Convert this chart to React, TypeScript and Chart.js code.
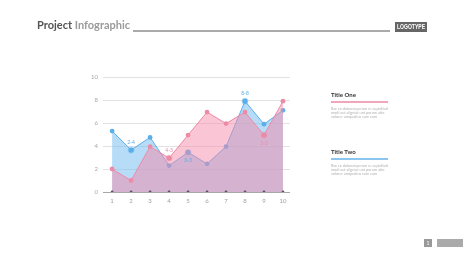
import React, { useEffect, useRef } from "react";
import { Chart, registerables } from "chart.js";

Chart.register(...registerables);

const categories = [1, 2, 3, 4, 5, 6, 7, 8, 9, 10];
const seriesOne = [2, 1, 3.95, 2.95, 4.95, 6.95, 5.95, 6.95, 4.95, 7.9];
const seriesTwo = [5.3, 3.65, 4.75, 2.3, 3.45, 2.45, 3.95, 7.9, 5.9, 7.1];
const yTicks = [0, 2, 4, 6, 8, 10];
const annotationSeries = [1, 0, 1, 1, 0];
const annotationIndex = [1, 3, 4, 7, 8];
const annotationText = ["2-4", "4-3", "3-3", "8-8", "5-5"];

const PINK = "rgb(238,138,165)";
const BLUE = "rgb(90,174,234)";
const PINK_FILL = "rgba(245,140,170,0.5)";
const BLUE_FILL = "rgba(110,185,240,0.5)";

const labelPlugin = {
  id: "pointLabels",
  afterDatasetsDraw(chart: any) {
    const ctx = chart.ctx;
    const xs = chart.scales.x;
    const ys = chart.scales.y;
    const all = [seriesOne, seriesTwo];
    ctx.save();
    ctx.font = "5px Lato, sans-serif";
    ctx.textAlign = "center";
    ctx.textBaseline = "middle";
    annotationIndex.forEach((idx, k) => {
      const s = annotationSeries[k];
      const v = all[s][idx];
      const other = all[1 - s][idx];
      const px = xs.getPixelForValue(categories[idx]);
      const py = ys.getPixelForValue(v);
      const dy = v >= other ? -8 : 8;
      ctx.fillStyle = s === 0 ? PINK : BLUE;
      ctx.fillText(annotationText[k], px, py + dy);
    });
    ctx.restore();
  },
};

function radii(series: number) {
  return categories.map((_, i) => {
    const k = annotationIndex.indexOf(i);
    return k >= 0 && annotationSeries[k] === series ? 2.6 : 2.4;
  });
}
function halo(series: number, color: string) {
  return categories.map((_, i) => {
    const k = annotationIndex.indexOf(i);
    return k >= 0 && annotationSeries[k] === series ? color : "rgba(255,255,255,0)";
  });
}
function haloW(series: number) {
  return categories.map((_, i) => {
    const k = annotationIndex.indexOf(i);
    return k >= 0 && annotationSeries[k] === series ? 1.6 : 0;
  });
}

function ChartCanvas() {
  const ref = useRef<HTMLCanvasElement>(null);
  useEffect(() => {
    if (!ref.current) return;
    const chart = new Chart(ref.current, {
      type: "line",
      data: {
        datasets: [
          {
            label: "axis",
            data: categories.map((c) => ({ x: c, y: 0 })),
            showLine: false,
            pointRadius: 1.4,
            pointBackgroundColor: "#555",
            pointBorderWidth: 0,
            fill: false,
          },
          {
            label: "Title One",
            data: categories.map((c, i) => ({ x: c, y: seriesOne[i] })),
            borderColor: PINK,
            backgroundColor: PINK_FILL,
            borderWidth: 1,
            fill: "origin",
            tension: 0,
            pointRadius: radii(0),
            pointBackgroundColor: PINK,
            pointBorderColor: halo(0, "rgba(238,138,165,0.35)"),
            pointBorderWidth: haloW(0),
          },
          {
            label: "Title Two",
            data: categories.map((c, i) => ({ x: c, y: seriesTwo[i] })),
            borderColor: BLUE,
            backgroundColor: BLUE_FILL,
            borderWidth: 1,
            fill: "origin",
            tension: 0,
            pointRadius: radii(1),
            pointBackgroundColor: BLUE,
            pointBorderColor: halo(1, "rgba(90,174,234,0.35)"),
            pointBorderWidth: haloW(1),
          },
        ],
      },
      options: {
        animation: false,
        responsive: false,
        devicePixelRatio: 1,
        layout: { padding: { top: 77, right: 173, left: 0, bottom: 0 } },
        plugins: { legend: { display: false }, tooltip: { enabled: false } },
        scales: {
          x: {
            type: "linear",
            min: 0.52,
            max: 10.37,
            afterBuildTicks: (scale: any) => {
              scale.ticks = categories.map((v) => ({ value: v }));
            },
            afterFit: (scale: any) => {
              scale.height = 88;
            },
            grid: { display: false },
            border: { display: false },
            ticks: {
              padding: -3,
              color: "#a0a0a0",
              font: { size: 6, family: "Lato, sans-serif" },
              callback: (v: any) => String(v),
            },
          },
          y: {
            min: 0,
            max: 10,
            afterBuildTicks: (scale: any) => {
              scale.ticks = yTicks.map((v) => ({ value: v }));
            },
            afterFit: (scale: any) => {
              scale.width = 103;
            },
            border: { display: false },
            grid: {
              drawTicks: false,
              lineWidth: 1,
              color: (c: any) => (c.tick && c.tick.value === 0 ? "#a8a8a8" : "#e2e2e2"),
            },
            ticks: {
              padding: 5,
              color: "#a8a8a8",
              font: { size: 6, family: "Lato, sans-serif" },
            },
          },
        },
      },
      plugins: [labelPlugin],
    } as any);
    return () => chart.destroy();
  }, []);
  return (
    <canvas
      ref={ref}
      width={463}
      height={280}
      style={{ position: "absolute", left: 0, top: 0, width: 463, height: 280 }}
    />
  );
}

const descText = "Bor ex doloremperum re cupiditati modi aut aligniat unt porum atio volorer umquatius sum eum";

function Side({ top, title, color }: { top: number; title: string; color: string }) {
  return (
    <div style={{ position: "absolute", left: 331, top, width: 62 }}>
      <div style={{ fontSize: 6, fontWeight: 700, color: "#333", lineHeight: "8px", fontFamily: "Lato, sans-serif" }}>
        {title}
      </div>
      <div style={{ height: 1.5, background: color, marginTop: 2, width: 57 }} />
      <div
        style={{
          fontSize: 3.8,
          color: "#b0b0b0",
          lineHeight: "4px",
          marginTop: 4,
          width: 58,
          fontFamily: "Lato, sans-serif",
        }}
      >
        {descText}
      </div>
    </div>
  );
}

export default function App() {
  return (
    <div
      style={{
        position: "fixed",
        left: 0,
        top: 0,
        width: 463,
        height: 280,
        background: "#fff",
        overflow: "hidden",
        fontFamily: "Lato, sans-serif",
      }}
    >
      <ChartCanvas />
      <div
        style={{
          position: "absolute",
          left: 37,
          top: 19,
          fontSize: 11,
          fontWeight: 700,
          lineHeight: "12px",
          whiteSpace: "nowrap",
        }}
      >
        <span style={{ color: "#555" }}>Project </span>
        <span style={{ color: "#9a9a9a" }}>Infographic</span>
      </div>
      <div style={{ position: "absolute", left: 133, top: 30, width: 257, height: 2, background: "#aaa" }} />
      <div
        style={{
          position: "absolute",
          left: 395,
          top: 22,
          width: 32,
          height: 10,
          background: "#666",
          overflow: "hidden",
        }}
      >
        <div
          style={{
            position: "absolute",
            left: 16,
            top: 0,
            color: "#fff",
            fontSize: 7,
            lineHeight: "10px",
            fontWeight: 700,
            whiteSpace: "nowrap",
            transform: "translateX(-50%) scaleX(0.72)",
            fontFamily: "'Liberation Sans', 'DejaVu Sans', sans-serif",
          }}
        >
          LOGOTYPE
        </div>
      </div>
      <Side top={91} title="Title One" color="#f2a6ba" />
      <Side top={148} title="Title Two" color="#8cc6ee" />
      <div
        style={{
          position: "absolute",
          left: 424,
          top: 239,
          width: 8,
          height: 8,
          background: "#999",
          color: "#fff",
          fontSize: 5,
          lineHeight: "8px",
          textAlign: "center",
        }}
      >
        1
      </div>
      <div style={{ position: "absolute", left: 437, top: 239, width: 26, height: 8, background: "#aaa" }} />
    </div>
  );
}
